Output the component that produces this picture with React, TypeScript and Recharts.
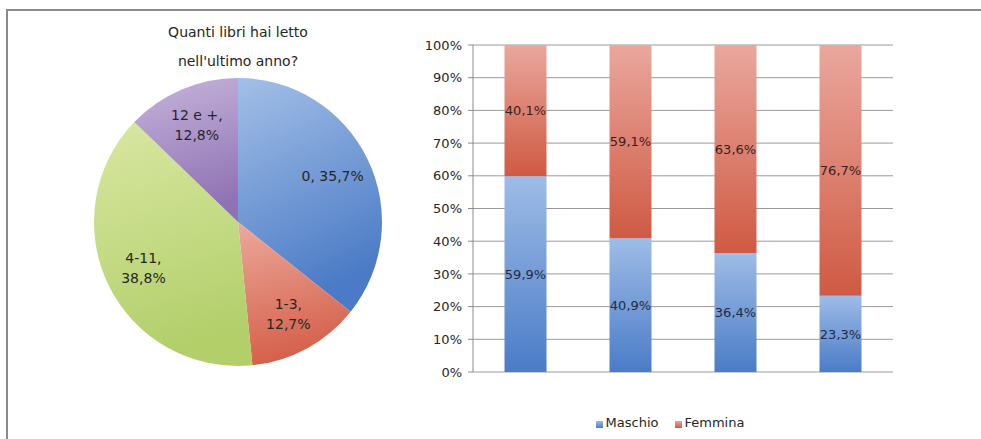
import React from "react";
import {
  PieChart,
  Pie,
  Cell,
  BarChart,
  Bar,
  XAxis,
  YAxis,
  CartesianGrid,
  LabelList,
} from "recharts";

// fasce di libri letti
const fasce = ["0", "1-3", "4-11", "12 e +"];
// quota di intervistati per fascia (%)
const quote = [35.7, 12.7, 38.8, 12.8];
// ripartizione per sesso in ciascuna fascia (%)
const maschio = [59.9, 40.9, 36.4, 23.3];
const femmina = [40.1, 59.1, 63.6, 76.7];
const serie = ["Maschio", "Femmina"];
const yTicks = [0, 10, 20, 30, 40, 50, 60, 70, 80, 90, 100];

const FONT = "'DejaVu Sans', sans-serif";
const TEXT = "#262626";
const AXIS = "#8c8c8c";

const pieData = fasce.map((name, i) => ({ name, value: quote[i] }));
const barData = fasce.map((fascia, i) => ({
  fascia,
  Maschio: maschio[i],
  Femmina: femmina[i],
}));

const pieFills = ["url(#pBlu)", "url(#pRosso)", "url(#pVerde)", "url(#pViola)"];

const pct = (v: number) => v.toFixed(1).replace(".", ",") + "%";

function PieLabel(props: any) {
  const { cx, cy, midAngle, outerRadius } = props;
  const name: string = props.name ?? props.payload?.name;
  const value: number = props.value ?? props.payload?.value;
  const rad = Math.PI / 180;
  const r = outerRadius * 0.73;
  const x = cx + r * Math.cos(-midAngle * rad);
  const y = cy + r * Math.sin(-midAngle * rad);
  const lines = name.length > 1 ? [name + ",", pct(value)] : [name + ", " + pct(value)];
  const lh = 20;
  const y0 = y - ((lines.length - 1) * lh) / 2;
  return (
    <text
      x={x}
      y={y0}
      textAnchor="middle"
      dominantBaseline="central"
      fill={TEXT}
      fontSize={14}
      fontFamily={FONT}
    >
      {lines.map((l, i) => (
        <tspan key={i} x={x} dy={i === 0 ? 0 : lh}>
          {l}
        </tspan>
      ))}
    </text>
  );
}

// etichetta dell'asse X con tacche ai confini delle categorie
function XTick(props: any) {
  const { x, y, payload, index, width } = props;
  const half = payload?.offset ?? width / fasce.length / 2;
  return (
    <g>
      <line x1={x - half} x2={x - half} y1={y} y2={y + 5} stroke={AXIS} />
      {index === fasce.length - 1 && (
        <line x1={x + half} x2={x + half} y1={y} y2={y + 5} stroke={AXIS} />
      )}
      <text
        x={x}
        y={y + 21}
        textAnchor="middle"
        dominantBaseline="central"
        fill={TEXT}
        fontSize={13}
        fontFamily={FONT}
      >
        {payload.value}
      </text>
    </g>
  );
}

function Legenda() {
  const colori = ["linear-gradient(#9dbbe6, #4a7cc7)", "linear-gradient(#e9a49a, #cf5a43)"];
  return (
    <div
      style={{
        position: "absolute",
        left: 400,
        width: 540,
        top: 415,
        display: "flex",
        justifyContent: "center",
        boxSizing: "border-box",
        gap: 16,
        fontFamily: FONT,
        fontSize: 13,
        color: TEXT,
      }}
    >
      {serie.map((s, i) => (
        <div key={s} style={{ display: "flex", alignItems: "center", gap: 3 }}>
          <span
            style={{
              display: "inline-block",
              width: 7,
              height: 7,
              marginTop: 3,
              background: colori[i],
            }}
          />
          <span>{s}</span>
        </div>
      ))}
    </div>
  );
}

export default function App() {
  return (
    <div
      style={{
        position: "absolute",
        left: 0,
        top: 0,
        width: 981,
        height: 439,
        background: "#fff",
        overflow: "hidden",
      }}
    >
      {/* cornice */}
      <div
        style={{
          position: "absolute",
          left: 6,
          top: 9,
          width: 990,
          height: 440,
          borderTop: "2px solid #8a8a8a",
          borderLeft: "2px solid #8a8a8a",
        }}
      />

      <div
        style={{
          position: "absolute",
          left: 38,
          width: 400,
          top: 18,
          textAlign: "center",
          fontFamily: FONT,
          fontSize: 14,
          lineHeight: "29px",
          color: TEXT,
        }}
      >
        Quanti libri hai letto
        <br />
        nell'ultimo anno?
      </div>

      <div style={{ position: "absolute", left: 0, top: 0 }}>
        <PieChart width={400} height={439} margin={{ top: 0, right: 0, bottom: 0, left: 0 }}>
          <defs>
            <linearGradient id="pBlu" x1="0" y1="0" x2="0.3" y2="1">
              <stop offset="0%" stopColor="#a3bfe7" />
              <stop offset="100%" stopColor="#4b7bc6" />
            </linearGradient>
            <linearGradient id="pRosso" x1="0" y1="0" x2="0.2" y2="1">
              <stop offset="0%" stopColor="#eca99c" />
              <stop offset="100%" stopColor="#d5604a" />
            </linearGradient>
            <linearGradient id="pVerde" x1="0" y1="0" x2="0.2" y2="1">
              <stop offset="0%" stopColor="#d9e7a2" />
              <stop offset="100%" stopColor="#b2cf6a" />
            </linearGradient>
            <linearGradient id="pViola" x1="0" y1="0" x2="0.2" y2="1">
              <stop offset="0%" stopColor="#c6b4db" />
              <stop offset="100%" stopColor="#8f72b4" />
            </linearGradient>
          </defs>
          <Pie
            data={pieData}
            dataKey="value"
            nameKey="name"
            cx={238}
            cy={222}
            outerRadius={144}
            startAngle={90}
            endAngle={-270}
            stroke="none"
            label={PieLabel}
            labelLine={false}
            isAnimationActive={false}
          >
            {pieData.map((d, i) => (
              <Cell key={d.name} fill={pieFills[i]} />
            ))}
          </Pie>
        </PieChart>
      </div>

      <div style={{ position: "absolute", left: 400, top: 0 }}>
        <BarChart
          width={540}
          height={439}
          data={barData}
          margin={{ top: 45, right: 47, bottom: 67, left: 0 }}
          barCategoryGap="30%"
        >
          <defs>
            <linearGradient id="gMaschio" x1="0" y1="0" x2="0" y2="1">
              <stop offset="0%" stopColor="#9ebce7" />
              <stop offset="100%" stopColor="#4a7cc7" />
            </linearGradient>
            <linearGradient id="gFemmina" x1="0" y1="0" x2="0" y2="1">
              <stop offset="0%" stopColor="#eaa79d" />
              <stop offset="100%" stopColor="#cf5a43" />
            </linearGradient>
          </defs>
          <CartesianGrid vertical={false} stroke="#9a9a9a" />
          <XAxis
            dataKey="fascia"
            height={0}
            axisLine={{ stroke: AXIS }}
            tickLine={false}
            tickSize={0}
            tickMargin={0}
            tick={<XTick />}
            interval={0}
          />
          <YAxis
            width={73}
            domain={[0, 100]}
            ticks={yTicks}
            tickFormatter={(v: number) => `${v}%`}
            axisLine={{ stroke: AXIS }}
            tickLine={{ stroke: AXIS }}
            tickSize={5}
            tickMargin={6}
            tick={{ fontSize: 13, fill: TEXT, fontFamily: FONT }}
          />
          <Bar dataKey="Maschio" stackId="s" fill="url(#gMaschio)" isAnimationActive={false}>
            <LabelList
              dataKey="Maschio"
              position="center"
              formatter={(v: any) => pct(Number(v))}
              fill="#1f2b40"
              fontSize={13}
              fontFamily={FONT}
            />
          </Bar>
          <Bar dataKey="Femmina" stackId="s" fill="url(#gFemmina)" isAnimationActive={false}>
            <LabelList
              dataKey="Femmina"
              position="center"
              formatter={(v: any) => pct(Number(v))}
              fill="#3a1f1a"
              fontSize={13}
              fontFamily={FONT}
            />
          </Bar>
        </BarChart>
      </div>

      <Legenda />
    </div>
  );
}
